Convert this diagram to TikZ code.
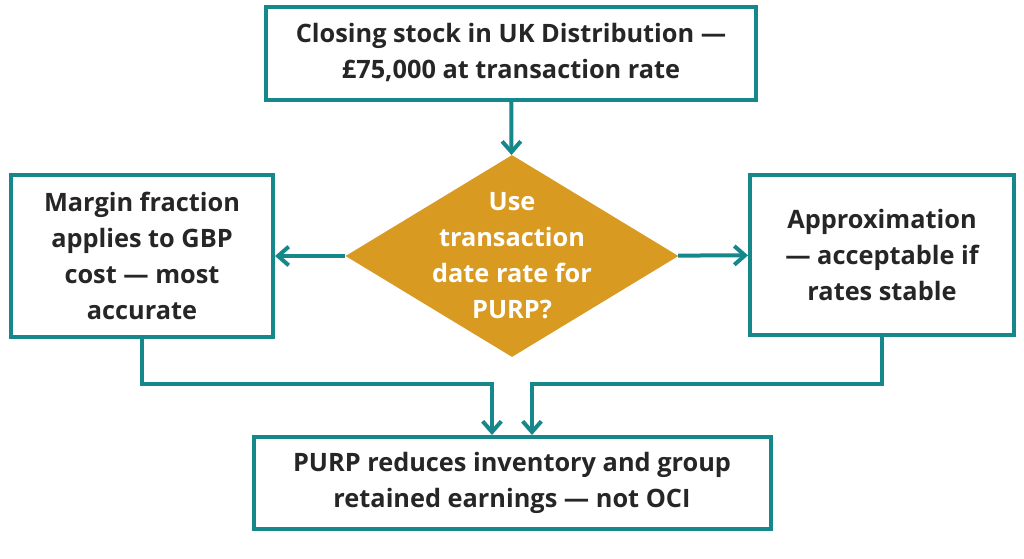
\documentclass[tikz,border=0pt]{standalone}
\usepackage{fontspec}
\setmainfont{Open Sans}
\usetikzlibrary{shapes.geometric,arrows.meta}
\definecolor{tealc}{HTML}{16878A}
\definecolor{goldc}{HTML}{D99A22}
\tikzset{
  box/.style={draw=tealc, line width=3pt, fill=white, align=center, inner sep=0pt,
    font=\fontsize{19}{27}\selectfont\bfseries, text=black!85},
  link/.style={draw=tealc, line width=3pt, -{Straight Barb[length=8pt,width=14pt,line width=3pt]}}
}
\begin{document}
\begin{tikzpicture}[x=0.75pt,y=-0.75pt]
  \useasboundingbox (0,0) rectangle (1024,558);

  % boxes
  \node[box, minimum width=490*0.75pt, minimum height=93*0.75pt] (stock) at (511,53)
    {Closing stock in UK Distribution —\\£75,000 at transaction rate};
  \node[diamond, fill=goldc, text=white, aspect=1.65, inner sep=-9pt, align=center,
    minimum width=333*0.75pt, minimum height=202*0.75pt,
    font=\fontsize{19}{27}\selectfont\bfseries] (rate) at (512,256)
    {Use\\transaction\\date rate for\\PURP?};
  \node[box, minimum width=262*0.75pt, minimum height=162*0.75pt] (margin) at (142,256)
    {Margin fraction\\applies to GBP\\cost — most\\accurate};
  \node[box, minimum width=264*0.75pt, minimum height=160*0.75pt] (approx) at (882,255)
    {Approximation\\— acceptable if\\rates stable};
  \node[box, minimum width=517*0.75pt, minimum height=92*0.75pt] (purp) at (512,483)
    {PURP reduces inventory and group\\retained earnings — not OCI};

  % connectors
  \draw[link] (stock) -- (rate);
  \draw[link] (rate) -- (margin);
  \draw[link] (rate) -- (approx);
  \draw[link] (margin.south) -- ++(0,45) -| ([xshift=-20*0.75pt]purp.north);
  \draw[link] (approx.south) -- ++(0,47) -| ([xshift=20*0.75pt]purp.north);
\end{tikzpicture}
\end{document}
